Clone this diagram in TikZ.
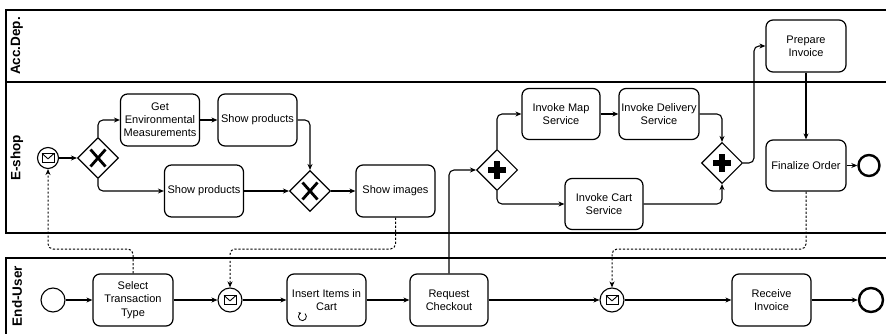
\documentclass[tikz,border=0pt]{standalone}
\usepackage{fontspec}
\setmainfont{Liberation Sans}
\usetikzlibrary{shapes.geometric,arrows.meta,calc}
\begin{document}
\begin{tikzpicture}[x=1pt,y=-1pt,
  line width=1.1pt,
  flow/.style={-{Stealth[length=6pt,width=5pt]}, rounded corners=5pt, line width=1.1pt},
  msgflow/.style={flow, dash pattern=on 2.2pt off 1.8pt, line width=1pt},
  task/.style={draw, rounded corners=7pt, minimum width=79pt, minimum height=52pt, align=center,
    font=\fontsize{11}{13.2}\selectfont, inner sep=1pt, line width=1.2pt},
  gw/.style={draw, diamond, minimum width=41pt, minimum height=41pt, inner sep=0pt, line width=1.1pt},
  ev/.style={draw, circle, inner sep=0pt, line width=1.1pt},
  endev/.style={draw, circle, inner sep=0pt, line width=2.4pt},
  lanelbl/.style={rotate=90, font=\bfseries\fontsize{13.5}{15}\selectfont},
  pool/.style={line width=1.2pt},
  envelope/.pic={\draw[line width=0.9pt] (-6,-4.5) rectangle (6,4.5);
                 \draw[line width=0.9pt] (-6,-4.5) -- (0,0.8) -- (6,-4.5);},
  xmark/.pic={\draw[line width=2.8pt] (-7.5,-8.5) -- (7.5,8.5) (-7.5,8.5) -- (7.5,-8.5);},
  plusmark/.pic={\fill (-2.6,-9) rectangle (2.6,9); \fill (-9,-2.6) rectangle (9,2.6);}
]
\useasboundingbox (0,0) rectangle (886,334);

% pools and lanes
\draw[pool] (886,10) -- (6,10) -- (6,233) -- (886,233);
\draw[pool] (6,82) -- (886,82);
\draw[pool] (886,258) -- (6,258) -- (6,340);
\node[lanelbl] (lacc) at (17,46) {Acc.Dep.};
\node[lanelbl] (lesh) at (17,158) {E-shop};
\node[lanelbl] (lend) at (17,296) {End-User};

% E-shop lane
\node[ev, minimum size=21pt] (msgS) at (48,158) {};
\pic at (msgS) {envelope};
\node[gw] (xor1) at (98,158) {};
\pic at (xor1) {xmark};
\node[task] (gem) at (160,120) {Get\\Environmental\\Measurements};
\node[task] (sp1) at (257.5,120) {Show products};
\node[task] (sp2) at (204,191) {Show products};
\node[gw] (xor2) at (310,191) {};
\pic at (xor2) {xmark};
\node[task] (si) at (395.5,191) {Show images};
\node[gw] (pg1) at (497,170) {};
\pic at (pg1) {plusmark};
\node[task, minimum width=78pt, minimum height=51pt] (map) at (561,114) {Invoke Map\\Service};
\node[task, minimum width=80pt, minimum height=51pt] (del) at (659,114) {Invoke Delivery\\Service};
\node[task, minimum width=78pt, minimum height=51pt] (cart) at (604,204) {Invoke Cart\\Service};
\node[gw] (pg2) at (722,163) {};
\pic at (pg2) {plusmark};
\node[task, minimum width=80pt] (prep) at (806,46) {Prepare\\Invoice};
\node[task, minimum width=80pt, minimum height=51pt] (fin) at (806,165.5) {Finalize Order};
\node[endev, minimum size=21pt] (endE) at (869,165.5) {};

% End-User lane
\node[ev, minimum size=24pt] (st) at (53,300) {};
\node[task, minimum width=80pt] (sel) at (133,300) {Select\\Transaction\\Type};
\node[ev, minimum size=24pt] (mc1) at (230,300) {};
\pic at (mc1) {envelope};
\node[task] (ins) at (326.5,300) {Insert Items in\\Cart};
\draw[line width=0.8pt, -{Stealth[length=2.5pt,width=3pt]}] ([shift={(16,-10)}]ins.south west) ++(-50:4) arc[start angle=-50, end angle=250, radius=4];
\node[task, minimum width=78pt] (req) at (449,300) {Request\\Checkout};
\node[ev, minimum size=24pt] (mc2) at (612,300) {};
\pic at (mc2) {envelope};
\node[task] (rec) at (771.5,300) {Receive\\Invoice};
\node[endev, minimum size=24pt] (endU) at (871,300) {};

\coordinate (ly) at (0,249);
\coordinate (pgout) at (754,163);

% sequence flows E-shop
\draw[flow] (msgS) -- (xor1);
\draw[flow] (xor1.north) |- (gem.west);
\draw[flow] (xor1.south) |- (sp2.west);
\draw[flow] (gem) -- (sp1);
\draw[flow] (sp1.east) -| (xor2.north);
\draw[flow] (sp2) -- (xor2);
\draw[flow] (xor2) -- (si);
\draw[flow] (req.north) |- (pg1.west);
\draw[flow] (pg1.north) |- (map.west);
\draw[flow] (pg1.south) |- (cart.west);
\draw[flow] (map) -- (del);
\draw[flow] (del.east) -| (pg2.north);
\draw[flow] (cart.east) -| (pg2.south);
\draw[flow] (pg2.east) -- (pgout) |- (prep.west);
\draw[flow] (prep) -- (fin);
\draw[flow] (fin) -- (endE);

% sequence flows End-User
\draw[flow] (st) -- (sel);
\draw[flow] (sel) -- (mc1);
\draw[flow] (mc1) -- (ins);
\draw[flow] (ins) -- (req);
\draw[flow] (req) -- (mc2);
\draw[flow] (mc2) -- (rec);
\draw[flow] (rec) -- (endU);

% message flows
\draw[msgflow] (sel.north) -- (sel.north |- ly) -| (msgS.south);
\draw[msgflow] (si.south) -- (si.south |- ly) -| (mc1.north);
\draw[msgflow] (fin.south) -- (fin.south |- ly) -| (mc2.north);
\end{tikzpicture}
\end{document}
